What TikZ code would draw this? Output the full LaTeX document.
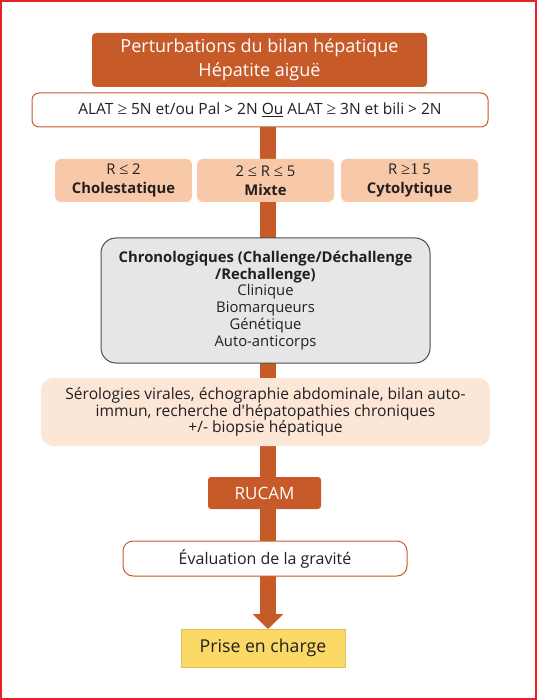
\documentclass[tikz,border=0pt]{standalone}
\usepackage{fontspec}
\setmainfont{Open Sans}
\newfontfamily\symfont[Scale=1.12]{Liberation Serif}
\usetikzlibrary{arrows.meta,backgrounds}
\definecolor{orng}{HTML}{C65A28}
\definecolor{peach}{HTML}{F8C9A8}
\definecolor{lpeach}{HTML}{FCE6D6}
\definecolor{lgray}{HTML}{E6E6E6}
\definecolor{yel}{HTML}{FAD966}
\definecolor{yelb}{HTML}{E3BF5A}
\definecolor{txt}{HTML}{231F20}
\definecolor{frame}{HTML}{E8202A}
\begin{document}
\begin{tikzpicture}[x=1pt,y=-1pt,
  every node/.style={inner sep=0pt, outer sep=0pt, align=center, text=txt},
  darkbox/.style={fill=orng, rounded corners=4pt, text=white},
  outlinebox/.style={fill=white, draw=orng, line width=1pt, rounded corners=7pt},
  rbox/.style={fill=peach, rounded corners=6pt, minimum width=137pt, minimum height=43pt, font=\fontsize{14.8}{19}\selectfont},
  graybox/.style={fill=lgray, draw=txt!80, line width=1pt, rounded corners=15pt},
  lightbox/.style={fill=lpeach, rounded corners=12pt},
  yelbox/.style={fill=yel, draw=yelb, line width=1pt},
  bar/.style={orng, line width=16pt, -{Triangle[width=30pt,length=15pt]}}
]
\useasboundingbox (0,0) rectangle (537,700);
\draw[frame, line width=1.5pt] (1,1) rectangle (536,699);

\node[darkbox, minimum width=335pt, minimum height=54pt, font=\fontsize{18}{24}\selectfont] (top) at (259.5,60)
  {Perturbations du bilan hépatique\\Hépatite aiguë};
\node[outlinebox, minimum width=456pt, minimum height=34pt, font=\fontsize{15.5}{18}\selectfont] (alat) at (260,110)
  {ALAT {\symfont ≥} 5N et/ou Pal > 2N \underline{Ou} ALAT {\symfont ≥} 3N et bili > 2N};

\node[rbox] (r1) at (123.5,180.5) {R {\symfont ≤} 2\\\textbf{Cholestatique}};
\node[rbox] (r2) at (265.5,180.5) {2 {\symfont ≤} R {\symfont ≤} 5\\\textbf{Mixte}};
\node[rbox] (r3) at (409.5,180.5) {R {\symfont ≥1} 5\\\textbf{Cytolytique}};

\node[graybox, minimum width=329pt, minimum height=125pt, font=\fontsize{14.8}{16.8}\selectfont] (chrono) at (265.5,300.5)
  {\textbf{Chronologiques (Challenge/Déchallenge}\\\textbf{/Rechallenge)}\\Clinique\\Biomarqueurs\\Génétique\\Auto-anticorps};

\node[lightbox, minimum width=449pt, minimum height=68pt, font=\fontsize{15.6}{16.7}\selectfont] (sero) at (265.5,412)
  {Sérologies virales, échographie abdominale, bilan auto-\\immun, recherche d\textquotesingle hépatopathies chroniques\\+/- biopsie hépatique};

\node[darkbox, rounded corners=3pt, minimum width=113pt, minimum height=32pt, font=\fontsize{17}{19}\selectfont] (rucam) at (264.5,493) {RUCAM};

\node[outlinebox, rounded corners=10pt, minimum width=284pt, minimum height=35pt, font=\fontsize{16}{18}\selectfont] (eval) at (265,558.5) {Évaluation de la gravité};

\node[yelbox, minimum width=164pt, minimum height=38pt, font=\fontsize{17.7}{20}\selectfont] (prise) at (263,648) {Prise en charge};

\begin{scope}[on background layer]
\draw[bar] (alat.south -| 268,0) -- (prise.north -| 268,0);
\end{scope}
\end{tikzpicture}
\end{document}
